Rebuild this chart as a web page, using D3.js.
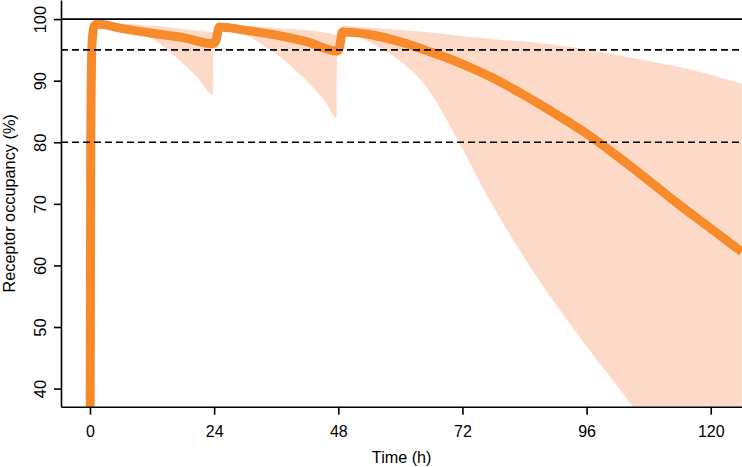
<!DOCTYPE html>
<html>
<head>
<meta charset="utf-8">
<script src="https://cdn.jsdelivr.net/npm/d3@7"></script>
<style>
  body { margin: 0; background: #fff; }
  text { font-family: "Liberation Sans", Arial, sans-serif; fill: #000; }
</style>
</head>
<body>
<div id="chart"></div>
<script>
// median receptor occupancy (%) vs time (h)
var meanTime = [0, 0.15, 0.4, 0.8, 1.5, 6, 12, 18, 23.8, 24.3, 25, 30, 36, 42, 47.7, 48.2, 48.8, 54, 60, 66, 72, 78, 84, 90, 96, 102, 108, 114, 120, 126];
var meanOcc  = [20, 80, 96, 98.9, 99.2, 98.5, 97.7, 97.0, 96.0, 96.4, 98.7, 98.2, 97.4, 96.3, 94.8, 95.3, 97.9, 97.5, 96.3, 94.6, 92.7, 90.4, 87.6, 84.6, 81.4, 77.7, 73.8, 69.8, 66.0, 62.2];

// prediction interval
var bandTime = [1.5, 5, 8, 10, 12, 15, 18, 21, 23.8, 23.85, 25, 28, 30.5, 33, 36.5, 40, 43, 45.5, 47.7, 47.75, 48.8, 50.5, 54, 59, 65, 71, 77, 86, 95, 105, 115, 126];
var bandLow  = [99.2, 98.9, 98.2, 97.6, 96.8, 95.0, 92.8, 90.3, 87.7, 96.0, 98.6, 98.2, 97.3, 96.0, 94.0, 91.5, 89.0, 86.5, 83.9, 94.8, 97.9, 97.6, 96.3, 93.8, 89.0, 80.5, 71.0, 58.6, 48.0, 37.0, 25.5, 8.0];
var bandHigh = [99.4, 99.3, 99.2, 99.0, 98.9, 98.7, 98.4, 98.1, 97.9, 97.9, 99.0, 98.9, 98.8, 98.7, 98.5, 98.3, 98.1, 97.8, 97.5, 97.5, 98.9, 98.8, 98.6, 98.3, 97.9, 97.3, 96.8, 96.2, 95.2, 93.7, 92.0, 89.5];

var xTicks = [0, 24, 48, 72, 96, 120];
var yTicks = [40, 50, 60, 70, 80, 90, 100];
var solidRef = [100];
var dashRef = [95, 80];

var svgWidth = 742, svgHeight = 467;
var margin = {top: 0, right: 0, bottom: 60.3, left: 61};
var width = svgWidth - margin.left - margin.right;
var height = svgHeight - margin.top - margin.bottom;

var x = d3.scaleLinear().domain([-5.6, 126.04]).range([0, width]);
var y = d3.scaleLinear().domain([37.06, 103.1]).range([height, 0]);

var svg = d3.select("#chart").append("svg")
  .attr("width", svgWidth)
  .attr("height", svgHeight)
  .append("g")
  .attr("transform", "translate(" + margin.left + "," + margin.top + ")");

svg.append("clipPath").attr("id", "plotclip")
  .append("rect").attr("width", width).attr("height", height);

var plot = svg.append("g").attr("clip-path", "url(#plotclip)");

var band = bandTime.map(function (t, i) { return {t: t, lo: bandLow[i], hi: bandHigh[i]}; });
var mean = meanTime.map(function (t, i) { return {t: t, v: meanOcc[i]}; });

var area = d3.area()
  .x(function (d) { return x(d.t); })
  .y0(function (d) { return y(d.lo); })
  .y1(function (d) { return y(d.hi); })
  .curve(d3.curveMonotoneX);

plot.append("path")
  .datum(band)
  .attr("d", area)
  .attr("fill", "#fdd9c7");

var line = d3.line()
  .x(function (d) { return x(d.t); })
  .y(function (d) { return y(d.v); })
  .curve(d3.curveMonotoneX);

plot.append("path")
  .datum(mean)
  .attr("d", line)
  .attr("fill", "none")
  .attr("stroke", "#f78b2b")
  .attr("stroke-width", 9)
  .attr("stroke-linejoin", "round");

// reference lines
svg.selectAll(".solidref")
  .data(solidRef)
  .enter().append("line")
  .attr("x1", 0).attr("x2", width)
  .attr("y1", function (d) { return y(d); })
  .attr("y2", function (d) { return y(d); })
  .attr("stroke", "#000")
  .attr("stroke-width", 1.6);

svg.selectAll(".dashref")
  .data(dashRef)
  .enter().append("line")
  .attr("x1", 0).attr("x2", width)
  .attr("y1", function (d) { return y(d); })
  .attr("y2", function (d) { return y(d); })
  .attr("stroke", "#000")
  .attr("stroke-width", 1.6)
  .attr("stroke-dasharray", "7,4");

// axes
var xAxis = svg.append("g")
  .attr("transform", "translate(0," + height + ")")
  .call(d3.axisBottom(x).tickValues(xTicks).tickSize(8).tickSizeOuter(0));
xAxis.select(".domain").attr("stroke-width", 1.6);
xAxis.selectAll(".tick line").attr("stroke-width", 1.6);
xAxis.selectAll("text")
  .attr("y", 30.8).attr("dy", 0)
  .style("font-size", "16px")
  .style("font-family", "'Liberation Sans', Arial, sans-serif");

var yAxis = svg.append("g")
  .call(d3.axisLeft(y).tickValues(yTicks).tickSize(7).tickSizeOuter(0));
yAxis.select(".domain").attr("stroke-width", 1.6);
yAxis.selectAll(".tick line").attr("stroke-width", 1.6);
yAxis.selectAll("text")
  .attr("transform", "rotate(-90)")
  .attr("x", 0).attr("y", -15.5).attr("dy", 0)
  .attr("text-anchor", "middle")
  .style("font-size", "16.5px")
  .style("font-family", "'Liberation Sans', Arial, sans-serif");

svg.append("text")
  .attr("x", 401.7 - margin.left)
  .attr("y", 463)
  .attr("text-anchor", "middle")
  .style("font-size", "16.2px")
  .text("Time (h)");

svg.append("text")
  .attr("transform", "translate(" + (15 - margin.left) + "," + (height / 2) + ") rotate(-90)")
  .attr("text-anchor", "middle")
  .style("font-size", "16.3px")
  .text("Receptor occupancy (%)");
</script>
</body>
</html>
